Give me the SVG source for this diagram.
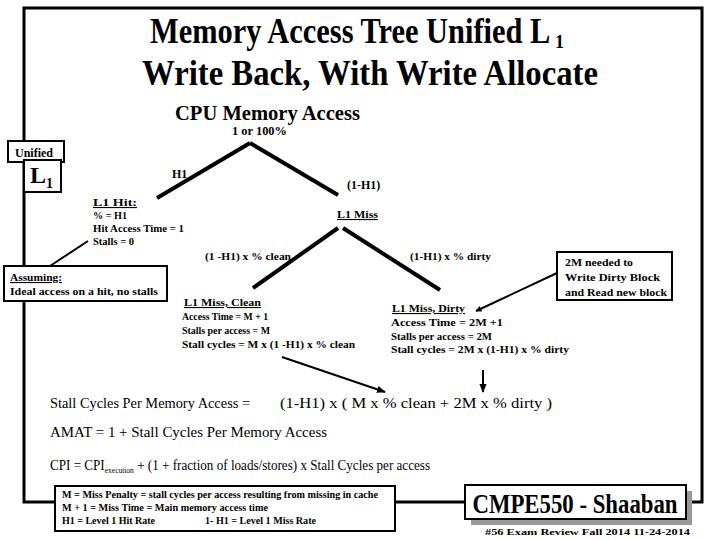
<svg xmlns="http://www.w3.org/2000/svg" width="720" height="540" viewBox="0 0 720 540" xml:space="preserve">
<style>
text{font-family:"Liberation Serif","Times New Roman","DejaVu Serif",serif;fill:#000}
.b{font-weight:bold}
.s{font-size:11px;font-weight:bold}
.u{text-decoration:underline}
.box{fill:#fff;stroke:#000;stroke-width:2}
.tree{stroke:#000;stroke-width:4;fill:none;stroke-linecap:butt}
.thin{stroke:#000;stroke-width:2;fill:none}
.frame{stroke:#000;stroke-width:3;fill:none}
</style>
<defs>
<marker id="ah" viewBox="0 0 10 10" refX="9" refY="5" markerWidth="6" markerHeight="6" orient="auto" markerUnits="userSpaceOnUse">
<path d="M0,0 L10,5 L0,10 z" fill="#000"/>
</marker>
<marker id="ah2" viewBox="0 0 10 10" refX="9" refY="5" markerWidth="9" markerHeight="9" orient="auto" markerUnits="userSpaceOnUse">
<path d="M0,1 L10,5 L0,9 z" fill="#000"/>
</marker>
</defs>
<g id="frame">
<polyline class="frame" points="55,502 24,502 24,8 702,8 702,502 686,502"/>
<line class="frame" x1="395" y1="502" x2="465" y2="502"/>
</g>
<g id="title">
<text class="b" transform="translate(150,43) scale(0.845,1)" x="0" y="0" font-size="36">Memory Access Tree Unified L</text>
<text class="b" x="555" y="48" font-size="18">1</text>
<text class="b" x="142" y="85" font-size="36" textLength="456" lengthAdjust="spacingAndGlyphs">Write Back,  With Write Allocate</text>
</g>
<g id="connectors">
<line class="tree" x1="250" y1="143" x2="157" y2="198"/>
<line class="tree" x1="250" y1="143" x2="338" y2="195"/>
<line class="tree" x1="338" y1="228" x2="253" y2="288"/>
<line class="tree" x1="343" y1="228" x2="440" y2="290"/>
<line class="thin" x1="88" y1="241" x2="50" y2="266"/>
<line stroke="#000" stroke-width="2" x1="557" y1="273" x2="476" y2="311" marker-end="url(#ah)"/>
<line stroke="#000" stroke-width="2" x1="282" y1="357" x2="385" y2="392" marker-end="url(#ah2)"/>
<line stroke="#000" stroke-width="2" x1="483" y1="370" x2="483" y2="392" marker-end="url(#ah2)"/>
</g>
<g id="cpu">
<text class="b" x="175" y="120" font-size="20" textLength="185" lengthAdjust="spacingAndGlyphs">CPU Memory  Access</text>
<text class="b" x="232" y="135" font-size="12" textLength="55" lengthAdjust="spacingAndGlyphs">1 or 100%</text>
<text class="b" x="172" y="178" font-size="12">H1</text>
<text class="b" x="347" y="189" font-size="12">(1-H1)</text>
</g>
<g id="unified">
<rect class="box" x="8" y="141" width="56" height="21"/>
<text class="b" x="15" y="157" font-size="12" textLength="38" lengthAdjust="spacingAndGlyphs">Unified</text>
</g>
<g id="l1box">
<rect class="box" x="24" y="160" width="37" height="32"/>
<text class="b" x="30" y="183" font-size="24">L<tspan font-size="14" dy="5">1</tspan></text>
</g>
<g id="hit">
<text class="s u" x="93" y="206" textLength="44" lengthAdjust="spacingAndGlyphs">L1 Hit:</text>
<text class="s" x="93" y="219" textLength="34" lengthAdjust="spacingAndGlyphs">% = H1</text>
<text class="s" x="93" y="232" textLength="91" lengthAdjust="spacingAndGlyphs">Hit Access Time = 1</text>
<text class="s" x="93" y="245" textLength="41" lengthAdjust="spacingAndGlyphs">Stalls = 0</text>
</g>
<g id="miss">
<text class="s u" x="337" y="218" textLength="41" lengthAdjust="spacingAndGlyphs">L1 Miss</text>
<text class="s" x="205" y="260" textLength="86" lengthAdjust="spacingAndGlyphs">(1 -H1)  x % clean</text>
<text class="s" x="410" y="260" textLength="81" lengthAdjust="spacingAndGlyphs">(1-H1)  x % dirty</text>
</g>
<g id="assuming">
<rect class="box" x="4" y="266" width="163" height="35"/>
<text class="s u" x="10" y="281" textLength="52" lengthAdjust="spacingAndGlyphs">Assuming:</text>
<text class="s" x="10" y="295" textLength="148" lengthAdjust="spacingAndGlyphs">Ideal access on a hit, no stalls</text>
</g>
<g id="note2m">
<rect class="box" x="557" y="252" width="115" height="48"/>
<text class="s" x="565" y="266" textLength="68" lengthAdjust="spacingAndGlyphs">2M needed to</text>
<text class="s" x="565" y="281" textLength="95" lengthAdjust="spacingAndGlyphs">Write Dirty Block</text>
<text class="s" x="565" y="296" textLength="102" lengthAdjust="spacingAndGlyphs">and Read new block</text>
</g>
<g id="clean">
<text class="s u" x="184" y="306" textLength="77" lengthAdjust="spacingAndGlyphs">L1 Miss, Clean</text>
<text class="s" x="182" y="320" textLength="86" lengthAdjust="spacingAndGlyphs">Access Time = M + 1</text>
<text class="s" x="182" y="334" textLength="88" lengthAdjust="spacingAndGlyphs">Stalls per access = M</text>
<text class="s" x="182" y="348" textLength="173" lengthAdjust="spacingAndGlyphs">Stall cycles =  M x (1 -H1)  x % clean</text>
</g>
<g id="dirty">
<text class="s u" x="392" y="312" textLength="73" lengthAdjust="spacingAndGlyphs">L1 Miss, Dirty</text>
<text class="s" x="391" y="326" textLength="112" lengthAdjust="spacingAndGlyphs">Access Time =  2M +1</text>
<text class="s" x="391" y="340" textLength="101" lengthAdjust="spacingAndGlyphs">Stalls per access = 2M</text>
<text class="s" x="391" y="353" textLength="178" lengthAdjust="spacingAndGlyphs">Stall cycles =  2M x (1-H1)  x  % dirty</text>
</g>
<g id="formulas">
<text x="50" y="408" font-size="15" textLength="200" lengthAdjust="spacingAndGlyphs">Stall Cycles Per Memory Access =</text>
<text x="280" y="408" font-size="15" textLength="272" lengthAdjust="spacingAndGlyphs">(1-H1)  x  ( M x  % clean  +  2M  x   % dirty )</text>
<text x="50" y="437" font-size="14" textLength="277" lengthAdjust="spacingAndGlyphs">AMAT =   1 + Stall Cycles Per Memory Access</text>
<text x="50" y="470" font-size="14" textLength="380" lengthAdjust="spacingAndGlyphs">CPI = CPI<tspan font-size="8" dy="3">execution</tspan><tspan dy="-3">  +  (1  + fraction of loads/stores) x Stall Cycles per access</tspan></text>
</g>
<g id="legend">
<rect class="box" x="55" y="486" width="340" height="45"/>
<text class="s" x="62" y="498" style="font-size:9.5px" textLength="316" lengthAdjust="spacingAndGlyphs">M  =  Miss Penalty = stall cycles per access resulting from missing in cache</text>
<text class="s" x="62" y="511" style="font-size:9.5px" textLength="206" lengthAdjust="spacingAndGlyphs">M + 1 =  Miss  Time = Main memory access time</text>
<text class="s" x="62" y="524" style="font-size:9.5px" textLength="93" lengthAdjust="spacingAndGlyphs">H1  =  Level 1  Hit Rate</text>
<text class="s" x="205" y="524" style="font-size:9.5px" textLength="111" lengthAdjust="spacingAndGlyphs">1- H1 = Level 1 Miss Rate</text>
</g>
<g id="badge">
<rect x="471" y="491" width="221" height="34" fill="#999"/>
<rect class="box" x="465" y="485" width="221" height="34"/>
<text class="b" x="575" y="513" font-size="27" text-anchor="middle" textLength="205" lengthAdjust="spacingAndGlyphs">CMPE550 - Shaaban</text>
<text class="s" x="485" y="535" style="font-size:9px" textLength="205" lengthAdjust="spacingAndGlyphs">#56   Exam Review   Fall 2014   11-24-2014</text>
</g>
</svg>
